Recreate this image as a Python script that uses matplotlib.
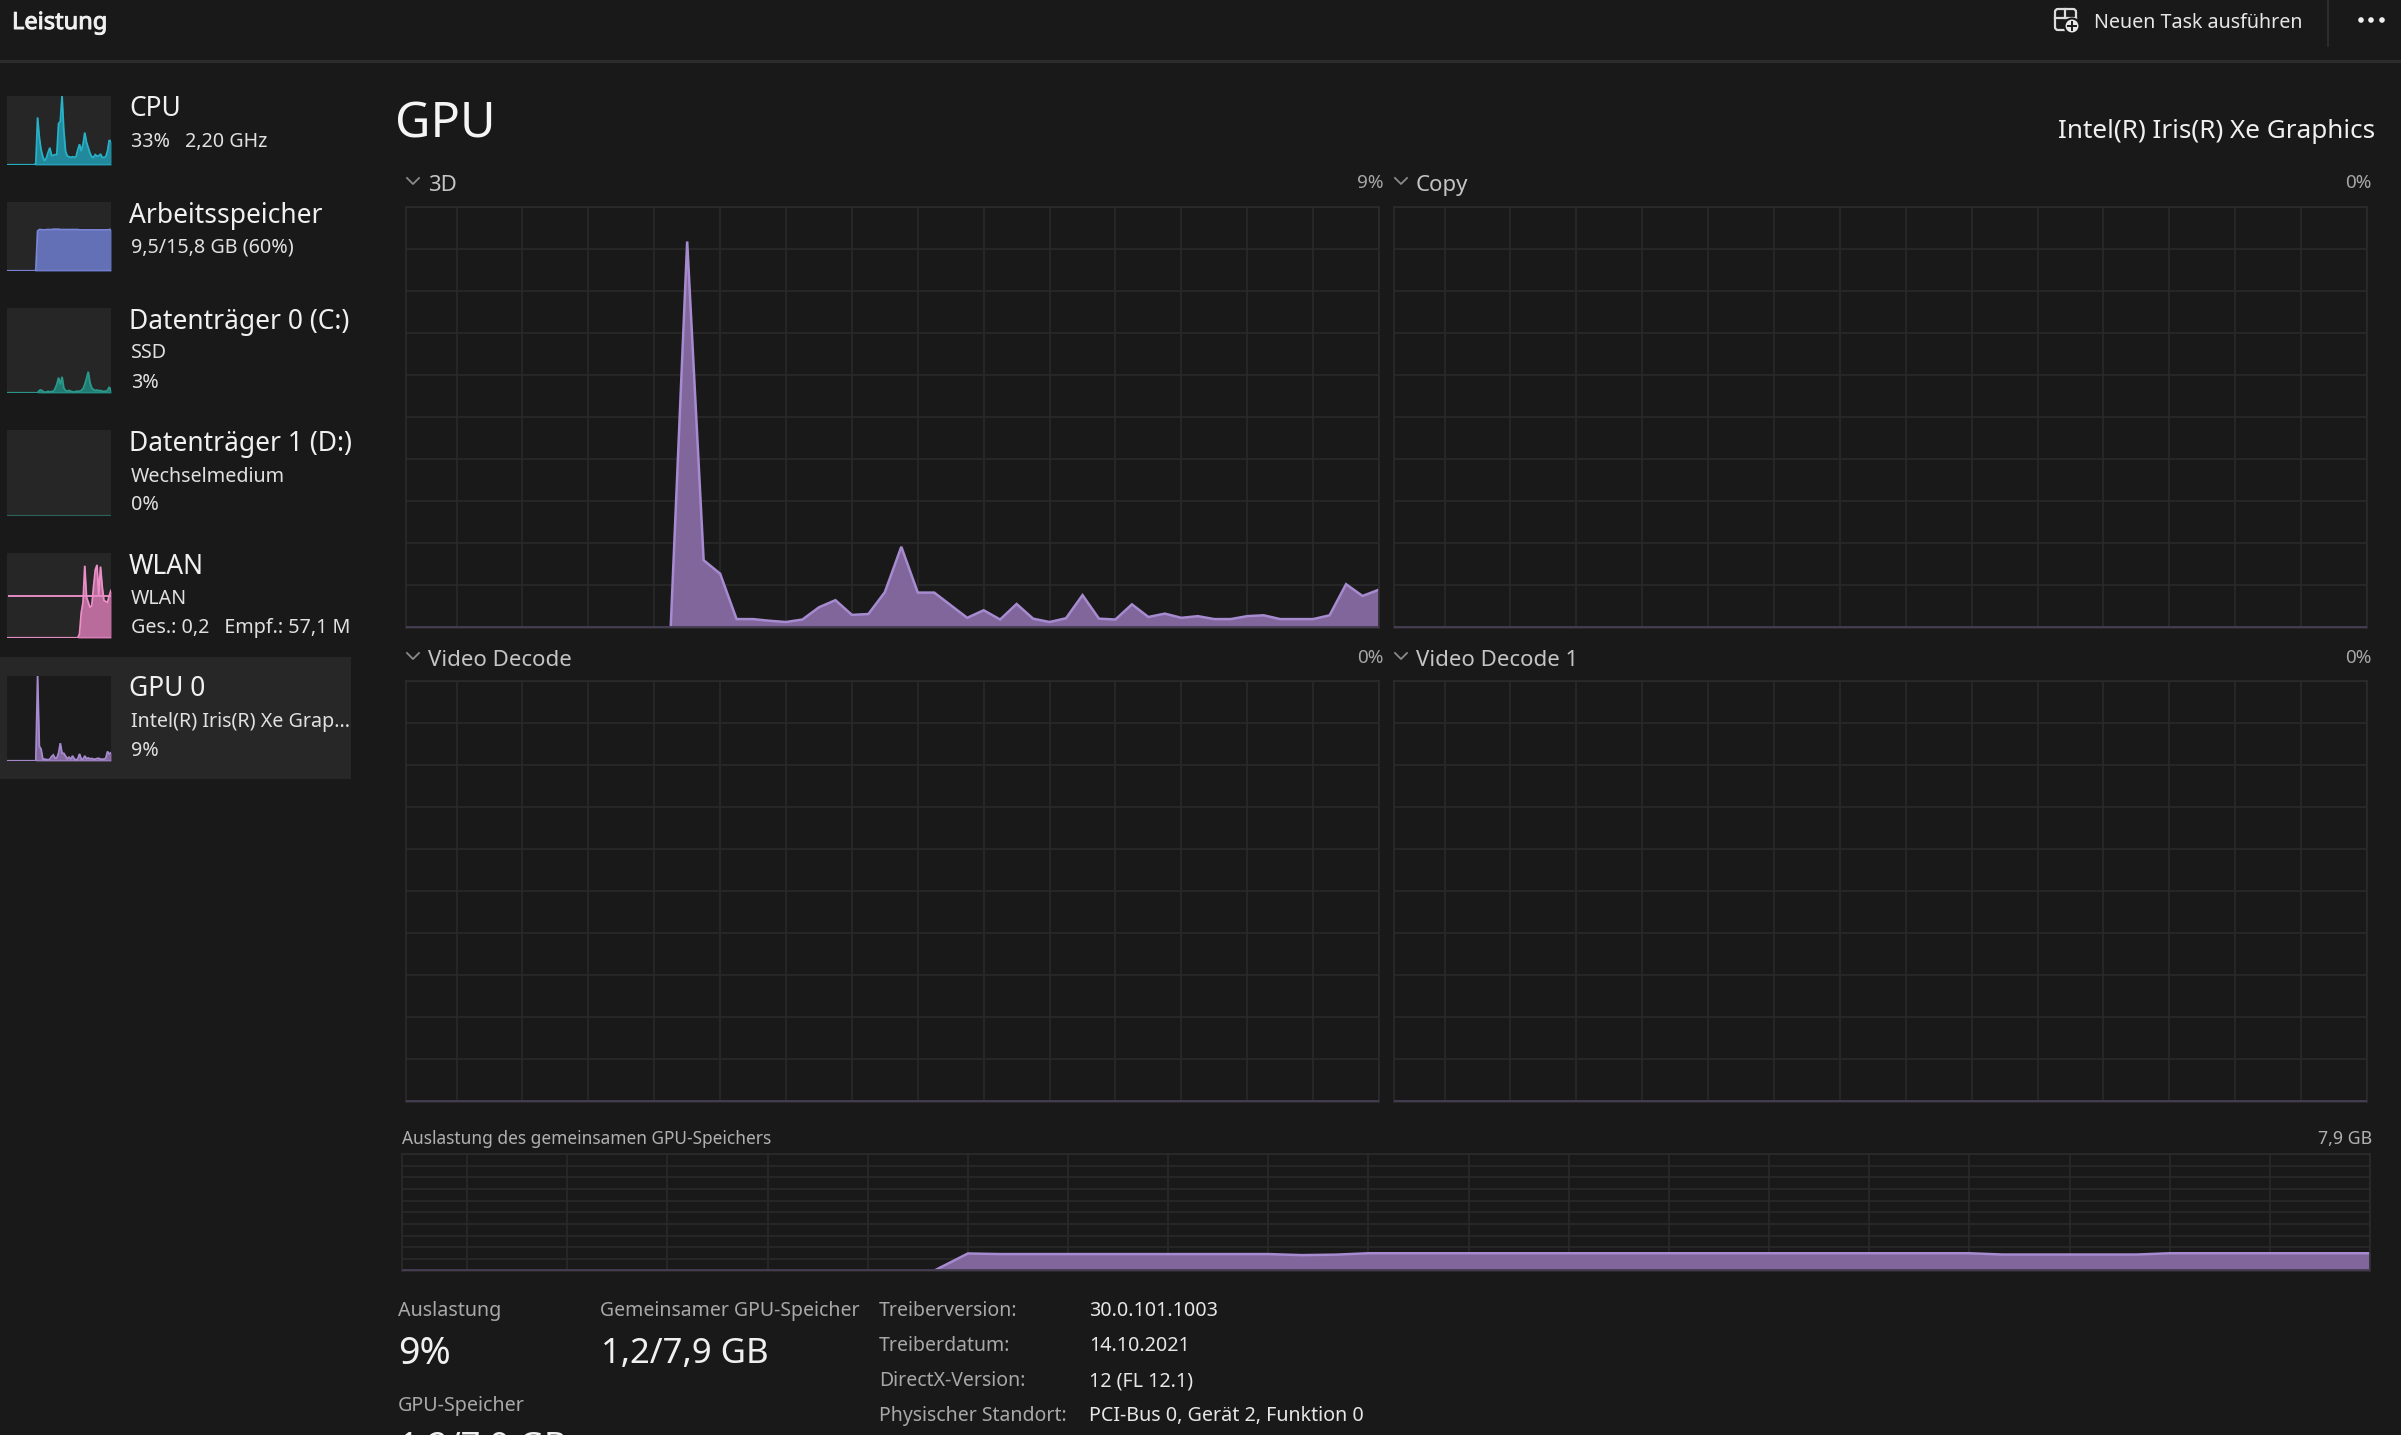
import numpy as np
import matplotlib
matplotlib.use("Agg")
import matplotlib.pyplot as plt
import matplotlib.patheffects as pe
from matplotlib.patches import Rectangle, Circle, FancyBboxPatch

W, H = 2401, 1435
plt.rcParams['font.family'] = ['Noto Sans', 'DejaVu Sans']

# ---- data: 60 samples, oldest first, percent of panel height ----
gpu_3d = [0,0,0,0,0,0,0,0,0,0,0,0,0,0,0,0,
          0,91.8,16,12.8,2,2,1.6,1.3,1.9,4.8,6.5,3,3.2,8.4,19.2,8.3,8.3,5.3,2.3,4.1,1.9,5.6,2.1,1.3,2.2,7.7,
          2.1,1.9,5.5,2.5,3.3,2.3,2.7,2,2,2.7,2.9,2,2,2,2.9,10.3,7.5,9]
gpu_copy = [0]*60
gpu_decode = [0]*60
gpu_decode1 = [0]*60
shared_mem = [0,0,0,0,0,0,0,0,0,0,0,0,0,0,0,0,
              0,14.6,14.1,14.1,14.1,14.1,14.1,14.1,14.1,14.1,14.1,13.2,13.6,14.8,14.8,14.8,14.8,14.8,14.8,14.8,14.8,14.8,
              14.8,14.8,14.8,14.8,14.8,14.8,14.8,14.8,14.8,14.8,13.7,13.7,13.7,13.7,13.7,14.8,14.8,14.8,14.8,14.8,14.8,14.8]
cpu_hist = [0,0,0,0,0,0,0,0,0,0,0,0,0,0,0,0,
            2,69,40,22,12,6,10,18,25,14,14,15,15,60,63,100,50,20,13,12,11,12,11,12,22,30,20,30,47,33,25,17,12,11,15,13,13,16,11,11,12,20,36,34]
mem_hist = [0,0,0,0,0,0,0,0,0,0,0,0,0,0,0,0,
            1,58,60,60,59.5,59.5,60,60,60,60,60.5,60.5,60.5,60.5,60,60,60,60,60,60,60,60,60,60,60,59.5,59.5,59.5,59.5,59.5,59.5,59.5,59.5,59.5,59.5,59.5,59.5,59.5,59.5,59.5,59.5,59.5,60,60]
disk0_hist = [0,0,0,0,0,0,0,0,0,0,0,0,0,0,0,0,
              0,0,3,3.5,2,1,1,2,1,2,1.5,5,10,18,10,19,6,3,2,3,2,1.5,1,2,2,2,3,5,10,17,25,12,6,4,3,3.5,2.5,3,2,2,2,3,7,3]
disk1_hist = [0]*60
wlan_hist = [0,0,0,0,0,0,0,0,0,0,0,0,0,0,0,0,
             0,0,0,0,0,0,0,0,0,0,0,0,0,0,0,0,0,0,0,0,0,0,0,0,0,
             5,30,42,85,48,42,36,38,60,80,86,50,84,60,44,43,42,50,56]
wlan_scale = 50

# ---- sidebar text ----
side_titles = ["CPU", "Arbeitsspeicher", "Datenträger 0 (C:)", "Datenträger 1 (D:)", "WLAN", "GPU 0"]
side_sub1 = ["33%\u2002 2,20 GHz", "9,5/15,8 GB (60%)", "SSD", "Wechselmedium", "WLAN", "Intel(R) Iris(R) Xe Grap..."]
side_sub2 = ["", "", "3%", "0%", "Ges.: 0,2\u2002 Empf.: 57,1 M", "9%"]
driver_labels = ["Treiberversion:", "Treiberdatum:", "DirectX-Version:", "Physischer Standort:"]
driver_values = ["30.0.101.1003", "14.10.2021", "12 (FL 12.1)", "PCI-Bus 0, Gerät 2, Funktion 0"]

BG = '#191919'; GRID = '#292929'; PANEL = '#262626'
LINE = '#a78bd0'; FILL = '#84699f'

fig = plt.figure(figsize=(W/100, H/100), dpi=100, facecolor=BG)

ui = fig.add_axes([0, 0, 1, 1], zorder=0)
ui.set_xlim(0, W); ui.set_ylim(H, 0); ui.axis('off')

def axpx(x0, y0, x1, y1, z=2):
    return fig.add_axes([x0/W, 1-y1/H, (x1-x0)/W, (y1-y0)/H], zorder=z)

def T(x, y, s, size, color='#e6e6e6', ha='left', weight='normal'):
    return ui.text(x, y, s, fontsize=size, color=color, ha=ha, va='center_baseline', fontweight=weight)

def chart(rect, vals, step, left, ymax=100):
    ax = axpx(*rect)
    ax.set_facecolor(BG)
    x = np.arange(-59, 1)
    v = np.array(vals, float)
    ax.set_xlim(left, 0); ax.set_ylim(0, ymax)
    ax.set_xticks(np.arange(0, left, -step))
    ax.set_yticks(np.arange(0, 101, 10))
    ax.grid(True, color=GRID, lw=1.2)
    ax.set_axisbelow(True)
    ax.tick_params(length=0, labelbottom=False, labelleft=False)
    for s in ax.spines.values():
        s.set_color('#2b2b2b'); s.set_linewidth(1.2)
    ax.fill_between(x, v, 0, color=FILL, lw=0, alpha=0.97)
    nz = v > 0
    nz = nz | np.r_[nz[1:], False]
    ax.plot(x[nz], v[nz], color=LINE, lw=1.8, solid_joinstyle='miter')
    ax.axhline(0, color='#453c52', lw=2.8, zorder=3)
    return ax

# main panels
chart((406, 207, 1379, 627.5), gpu_3d, 4, -59.07)
chart((1394, 207, 2367, 627.5), gpu_copy, 4, -59.07)
chart((406, 681, 1379, 1101.5), gpu_decode, 4, -59.07)
chart((1394, 681, 2367, 1101.5), gpu_decode1, 4, -59.07)
chart((402, 1154, 2370, 1270.5), shared_mem, 3, -58.95)

# chrome
ui.add_patch(Rectangle((0, 60), W, 2.5, color='#2c2c2c', lw=0))
ui.add_patch(Rectangle((2327, 0), 2, 47, color='#2c2c2c', lw=0))
ui.add_patch(Rectangle((0, 657), 351, 122, color='#272727', lw=0))
t = T(12, 20, "Leistung", 17, '#f0f0f0')
t.set_path_effects([pe.withStroke(linewidth=0.7, foreground='#f0f0f0')])
T(2094, 20, "Neuen Task ausführen", 14.2, '#e6e6e6')
for dx in (2361, 2371, 2382):
    ui.add_patch(Circle((dx, 20), 2.8, color='#f0f0f0', lw=0))
ui.add_patch(FancyBboxPatch((2055, 9), 21, 21, boxstyle='round,pad=0,rounding_size=3', fc='none', ec='#dcdcdc', lw=1.6))
ui.plot([2055, 2076], [18, 18], color='#dcdcdc', lw=1.6)
ui.plot([2065, 2065], [9, 18], color='#dcdcdc', lw=1.6)
ui.add_patch(Circle((2072, 26), 7.5, fc='#e8e8e8', ec=BG, lw=1.5, zorder=3))
ui.plot([2068, 2076], [26, 26], color=BG, lw=1.4, zorder=4)
ui.plot([2072, 2072], [22, 30], color=BG, lw=1.4, zorder=4)

T(395, 119, "GPU", 35, '#f5f5f5')
T(2375, 128.5, "Intel(R) Iris(R) Xe Graphics", 18.8, '#f0f0f0', ha='right')

def chevron(x, y):
    ui.plot([x, x+6, x+12], [y-3, y+3, y-3], color='#8a8a8a', lw=1.3)

for cx, tx, rx, cy, ty, name, pct in [
    (407, 428, 1384, 181, 183, "3D", "9%"),
    (1395, 1416, 2372, 181, 183, "Copy", "0%"),
    (407, 428, 1384, 656, 658, "Video Decode", "0%"),
    (1395, 1416, 2372, 656, 658, "Video Decode 1", "0%"),
]:
    chevron(cx, cy)
    T(tx, ty, name, 16, '#c4c4c4')
    T(rx, cy, pct, 13.6, '#a6a6a6', ha='right')

T(402, 1137, "Auslastung des gemeinsamen GPU-Speichers", 12.45, '#b0b0b0')
T(2372, 1137, "7,9 GB", 12.8, '#b0b0b0', ha='right')

T(398, 1308.5, "Auslastung", 14.2, '#a8a8a8')
T(600, 1308.5, "Gemeinsamer GPU-Speicher", 14.0, '#a8a8a8')
T(398, 1350, "9%", 27, '#f0f0f0')
T(601, 1350, "1,2/7,9 GB", 25, '#f0f0f0')
T(398, 1404, "GPU-Speicher", 14.2, '#a8a8a8')
T(399, 1444, "1,2/7,9 GB", 25, '#f0f0f0')
for lab, val, yy in zip(driver_labels, driver_values, (1308.5, 1343.5, 1378.5, 1413.5)):
    T(879, yy, lab, 14.0, '#a8a8a8')
    T(1089, yy, val, 14.2, '#e6e6e6')

# sidebar rows
def thumb(rect, vals, line, fill, bg=PANEL, ymax=100, base=None):
    ax = axpx(*rect)
    ax.set_facecolor(bg); ax.axis('on')
    ax.set_xticks([]); ax.set_yticks([])
    for s in ax.spines.values():
        s.set_visible(False)
    x = np.arange(-59, 1)
    v = np.array(vals, float)
    ax.set_xlim(-59.5, 0); ax.set_ylim(0, ymax)
    ax.fill_between(x, v, 0, color=fill, lw=0)
    ax.plot(x, v, color=line, lw=1.3, solid_joinstyle='miter', clip_on=True)
    ax.axhline(0, color=base or line, lw=2.4, alpha=0.6)
    return ax

thumb((7, 96, 111, 165), cpu_hist, '#27b2c8', '#22899d')
thumb((7, 202, 111, 271), mem_hist, '#7a86d8', '#6470b6')
thumb((7, 308, 111, 393), disk0_hist, '#2a9a8c', '#1f7a72')
thumb((7, 430, 111, 516), disk1_hist, '#2c5f58', '#25857c', base='#2c6a62')
a = thumb((7, 553, 111, 638), wlan_hist, '#ec8fc8', '#b96c9b')
a.axhline(wlan_scale, color='#e58cc4', lw=1.4, xmin=0.02, zorder=1)
thumb((7, 676, 111, 761), gpu_3d, LINE, FILL, bg='#1b1b1b', ymax=max(gpu_3d))

title_y = [105.5, 213, 319, 441, 563, 686]
sub1_y = [139, 245, 351, 474, 596, 719]
sub2_y = [0, 0, 381, 503, 626, 749]
for t_, s1, s2, ty, y1, y2 in zip(side_titles, side_sub1, side_sub2, title_y, sub1_y, sub2_y):
    T(129, ty, t_, 19.0, '#f0f0f0')
    T(131, y1, s1, 14.2, '#e0e0e0')
    if s2:
        T(131, y2, s2, 14.2, '#e0e0e0')

fig.savefig('out.png', dpi=100, facecolor=BG)
